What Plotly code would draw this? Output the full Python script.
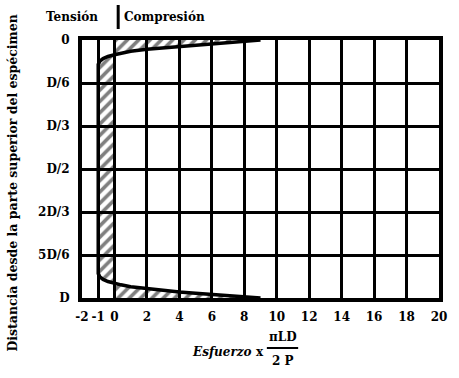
import plotly.graph_objects as go

# Normalised horizontal stress along the vertical diameter (stress * pi*L*D / 2P)
# depth is measured from the top of the specimen as a fraction of D
depth = [0.0, 0.005, 0.009, 0.013, 0.018, 0.023, 0.029, 0.036, 0.044, 0.051, 0.057,
         0.064, 0.072, 0.082, 0.095,
         0.500,
         0.905, 0.918, 0.928, 0.936, 0.943, 0.949, 0.956, 0.964, 0.971, 0.977,
         0.982, 0.987, 0.991, 0.995, 1.0]
stress = [9.0, 8.0, 7.0, 6.0, 5.0, 4.0, 3.0, 2.0, 1.0, 0.4, 0.0,
          -0.4, -0.7, -0.9, -1.0,
          -1.0,
          -1.0, -0.9, -0.7, -0.4, 0.0, 0.4, 1.0, 2.0, 3.0, 4.0,
          5.0, 6.0, 7.0, 8.0, 9.0]

x_ticks = [-2, -1, 0, 2, 4, 6, 8, 10, 12, 14, 16, 18, 20]
x_labels = ["-2", "-1", "0", "2", "4", "6", "8", "10", "12", "14", "16", "18", "20"]
y_ticks = [0, 1 / 6, 1 / 3, 1 / 2, 2 / 3, 5 / 6, 1]
y_labels = ["0", "D/6", "D/3", "D/2", "2D/3", "5D/6", "D"]

FONT = "DejaVu Serif"
W, H = 459, 378
L, R, T, B = 82, 12, 40, 80
pw, ph = W - L - R, H - T - B


def px(x):
    return (x - L) / pw


def py(y):
    return (H - B - y) / ph


fig = go.Figure()
fig.add_trace(go.Scatter(
    x=stress, y=depth, mode="lines",
    line=dict(color="black", width=3.5),
    fill="tozerox",
    fillcolor="rgba(0,0,0,0)",
    fillpattern=dict(shape="/", fgcolor="black", bgcolor="rgba(0,0,0,0)",
                     size=8, solidity=0.45),
    hoverinfo="skip", showlegend=False,
))

axis_common = dict(
    showgrid=True, gridcolor="black", gridwidth=3,
    showline=True, linecolor="black", linewidth=4, mirror=True,
    zeroline=False, ticks="",
    tickfont=dict(family=FONT, size=12, color="black", weight="bold"),
)
fig.update_xaxes(range=[-2, 20], tickvals=x_ticks, ticktext=x_labels,
                 ticklabelstandoff=5, **axis_common)
fig.update_yaxes(range=[1, 0], tickvals=y_ticks, ticktext=y_labels,
                 ticklabelstandoff=6, **axis_common)

txt = dict(family=FONT, color="black", weight="bold")
ann = [
    dict(text="Distancia desde la parte superior del espécimen", x=px(10), y=py(183),
         textangle=-90, font=dict(size=12.5, **txt)),
    dict(text="Tensión", x=px(72), y=py(17), font=dict(size=12, **txt)),
    dict(text="Compresión", x=px(166), y=py(17), font=dict(size=12, **txt)),
    dict(text="Esfuerzo", x=px(225), y=py(352), font=dict(size=12, style="italic", **txt)),
    dict(text="x", x=px(264), y=py(352), font=dict(size=12, **txt)),
    dict(text="πLD", x=px(287), y=py(337), font=dict(size=12, **txt)),
    dict(text="2 P", x=px(287), y=py(361), font=dict(size=12, **txt)),
]
for a in ann:
    a.update(xref="paper", yref="paper", showarrow=False, xanchor="center", yanchor="middle")

shapes = [
    dict(type="line", xref="paper", yref="paper", x0=px(119), x1=px(119),
         y0=py(5), y1=py(29), line=dict(color="black", width=3)),
    dict(type="line", xref="paper", yref="paper", x0=px(271), x1=px(303),
         y0=py(348), y1=py(348), line=dict(color="black", width=2)),
]

fig.update_layout(
    width=W, height=H,
    margin=dict(l=L, r=R, t=T, b=B),
    paper_bgcolor="white", plot_bgcolor="white",
    annotations=ann, shapes=shapes,
)

fig.write_html("out.html")
